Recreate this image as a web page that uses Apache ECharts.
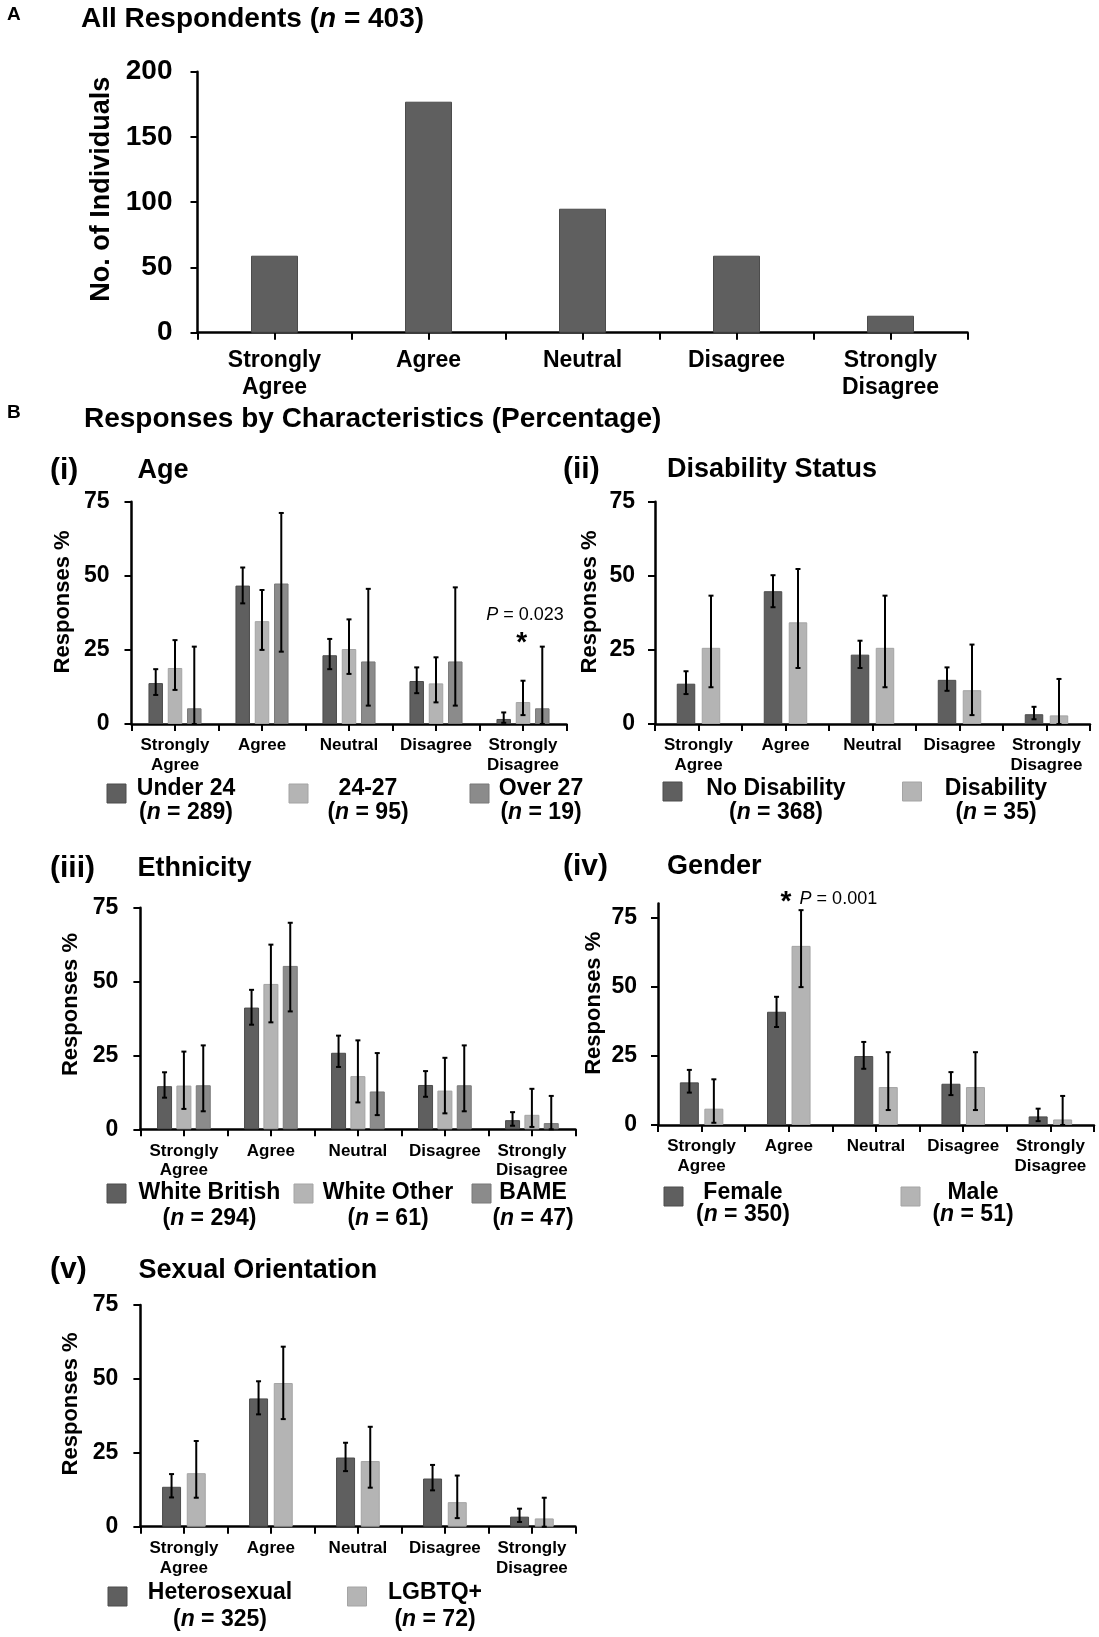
<!DOCTYPE html>
<html><head><meta charset="utf-8">
<script src="https://cdn.jsdelivr.net/npm/echarts@6/dist/echarts.min.js"></script>
<style>html,body{margin:0;padding:0;background:#fff}#c{width:1099px;height:1637px}</style>
</head><body><div id="c"></div>
<script>
// ---------------- DATA ----------------
const categories = ['Strongly\nAgree', 'Agree', 'Neutral', 'Disagree', 'Strongly\nDisagree'];
const yTicksCount = [0, 50, 100, 150, 200];
const yTicksPct = [0, 25, 50, 75];

// A: All respondents (counts)
const allCounts = [59, 177, 95, 59, 13];

// (i) Age
const ageGroups = ['Under 24', '24-27', 'Over 27'];
const ageN = [289, 95, 19];
const ageUnder24 = [13.8, 46.7, 23.2, 14.5, 1.7];
const ageUnder24Lo = [9.8, 40.7, 18.5, 10.4, 0.4];
const ageUnder24Hi = [18.5, 52.8, 28.7, 19.1, 3.9];
const age24to27 = [18.9, 34.7, 25.3, 13.7, 7.4];
const age24to27Lo = [11.5, 25.0, 16.9, 7.3, 3.0];
const age24to27Hi = [28.3, 45.2, 35.3, 22.5, 14.6];
const ageOver27 = [5.3, 47.4, 21.1, 21.1, 5.3];
const ageOver27Lo = [0, 24.4, 6.2, 6.2, 0];
const ageOver27Hi = [26.1, 71.2, 45.6, 46.1, 26.1];

// (ii) Disability
const disabilityGroups = ['No Disability', 'Disability'];
const disabilityN = [368, 35];
const noDisability = [13.6, 44.8, 23.4, 14.9, 3.3];
const noDisabilityLo = [10.1, 39.4, 18.9, 11.2, 1.6];
const noDisabilityHi = [17.8, 50.2, 28.1, 19.1, 5.8];
const disability = [25.7, 34.3, 25.7, 11.4, 2.9];
const disabilityLo = [12.4, 18.9, 12.4, 3.0, 0];
const disabilityHi = [43.3, 52.3, 43.3, 26.8, 15.2];

// (iii) Ethnicity
const ethnicityGroups = ['White British', 'White Other', 'BAME'];
const ethnicityN = [294, 61, 47];
const whiteBritish = [14.6, 41.2, 25.9, 15.0, 3.1];
const whiteBritishLo = [10.7, 35.4, 21.1, 11.0, 1.2];
const whiteBritishHi = [19.3, 47.2, 31.7, 19.7, 5.8];
const whiteOther = [14.8, 49.2, 18.0, 13.1, 4.9];
const whiteOtherLo = [6.9, 36.2, 9.1, 5.4, 0.8];
const whiteOtherHi = [26.3, 62.5, 30.1, 24.2, 13.7];
const bame = [14.9, 55.3, 12.8, 14.9, 2.1];
const bameLo = [6.1, 39.9, 4.8, 6.1, 0];
const bameHi = [28.4, 69.9, 25.8, 28.4, 11.3];

// (iv) Gender
const genderGroups = ['Female', 'Male'];
const genderN = [350, 51];
const female = [15.4, 40.9, 24.9, 14.9, 3.1];
const femaleLo = [11.7, 35.4, 20.3, 10.8, 1.4];
const femaleHi = [19.9, 46.3, 30.0, 19.1, 5.9];
const male = [5.9, 64.7, 13.7, 13.7, 2.0];
const maleLo = [0.8, 49.8, 5.4, 5.4, 0];
const maleHi = [16.5, 77.6, 26.3, 26.3, 10.5];

// (v) Sexual orientation
const orientationGroups = ['Heterosexual', 'LGBTQ+'];
const orientationN = [325, 72];
const heterosexual = [13.5, 43.4, 23.4, 16.3, 3.4];
const heterosexualLo = [9.9, 38.0, 18.8, 12.3, 1.6];
const heterosexualHi = [17.8, 49.2, 28.4, 20.9, 6.1];
const lgbtq = [18.1, 48.6, 22.2, 8.3, 2.8];
const lgbtqLo = [9.8, 36.4, 13.2, 2.9, 0];
const lgbtqHi = [29.0, 60.9, 33.8, 17.3, 9.8];

// ---------------- STYLE ----------------
const FF = "'Liberation Sans', Arial, Helvetica, sans-serif";
const DARK = '#5f5f5f', LIGHT = '#b4b4b4', MID = '#8b8b8b';
const EDGE = {};
EDGE[DARK] = '#4c4c4c'; EDGE[LIGHT] = '#a4a4a4'; EDGE[MID] = '#797979';
const F = (size, weight, style) => `${style || 'normal'} ${weight || 'bold'} ${size}px ${FF}`;

const option = {
  animation: false,
  backgroundColor: '#ffffff',
  grid: [], xAxis: [], yAxis: [], series: [],
  graphic: { elements: [] }
};
const G = option.graphic.elements;

function T(x, y, tokens, align, va) {
  const rich = {};
  let text = '';
  tokens.forEach((t, i) => { rich['t' + i] = { font: t[1], fill: '#000' }; text += '{t' + i + '|' + t[0] + '}'; });
  G.push({ type: 'text', x: x, y: y, silent: true,
    style: { text: text, rich: rich, font: tokens[0][1], fill: '#000', align: align || 'left', verticalAlign: va || 'middle' } });
}

function errRender(k, m, bw, gapFrac) {
  return function (params, api) {
    const i = api.value(0), lo = api.value(1), hi = api.value(2);
    const pH = api.coord([i, hi]), pL = api.coord([i, lo]);
    const off = (k - (m - 1) / 2) * bw * (1 + gapFrac);
    const cx = pH[0] + off;
    const st = { stroke: '#000', lineWidth: 2 };
    return { type: 'group', children: [
      { type: 'line', shape: { x1: cx, y1: pH[1], x2: cx, y2: pL[1] }, style: st },
      { type: 'line', shape: { x1: cx - 2.5, y1: pH[1], x2: cx + 2.5, y2: pH[1] }, style: st },
      { type: 'line', shape: { x1: cx - 2.5, y1: pL[1], x2: cx + 2.5, y2: pL[1] }, style: st }
    ] };
  };
}

function addPanel(p) {
  const gi = option.grid.length;
  option.grid.push({ left: p.left, top: p.top, width: p.width, height: p.height });
  const xi = option.xAxis.length;
  const tickStyle = { color: '#000', width: 2 };
  option.xAxis.push({
    type: 'category', gridIndex: gi, data: categories, position: 'bottom',
    axisLine: { show: true, onZero: false, lineStyle: { color: '#000', width: 2.5 } },
    axisTick: { show: true, interval: 0, alignWithLabel: false, length: 7, lineStyle: tickStyle },
    axisLabel: { interval: 0, color: '#000', fontFamily: FF, fontWeight: 'bold', fontSize: p.xFont, lineHeight: p.xLine, margin: p.xMargin },
    splitLine: { show: false }
  });
  option.xAxis.push({
    type: 'category', gridIndex: gi, data: categories, position: 'bottom',
    axisLine: { show: false, onZero: false },
    axisTick: { show: true, interval: 0, alignWithLabel: true, length: 7, lineStyle: tickStyle },
    axisLabel: { show: false }, splitLine: { show: false }
  });
  const yi = option.yAxis.length;
  option.yAxis.push({
    type: 'value', gridIndex: gi, min: 0, max: p.max, interval: p.interval,
    axisLine: { show: true, lineStyle: { color: '#000', width: 2.5 } },
    axisTick: { show: true, length: 7, lineStyle: tickStyle, customValues: p.ticks },
    axisLabel: { color: '#000', fontFamily: FF, fontWeight: 'bold', fontSize: p.yFont, margin: p.yMargin,
      customValues: p.ticks, formatter: v => (p.ticks.indexOf(v) >= 0 ? String(v) : '') },
    splitLine: { show: false },
    name: p.name, nameLocation: 'middle', nameRotate: 90, nameGap: p.nameGap,
    nameTextStyle: { color: '#000', fontFamily: FF, fontWeight: 'bold', fontSize: p.nameFont, padding: [0, 0, 0, p.nameShift * 2] }
  });
  const m = p.series.length;
  const gapFrac = p.gap || 0;
  p.series.forEach((s, k) => {
    option.series.push({
      type: 'bar', name: s.name, xAxisIndex: xi, yAxisIndex: yi, data: s.data,
      barWidth: p.bw, barGap: Math.round(gapFrac * 100) + '%',
      itemStyle: { color: s.color, borderColor: EDGE[s.color], borderWidth: 1 },
      silent: true, z: 2
    });
    if (s.lo) {
      option.series.push({
        type: 'custom', name: s.name + ' CI', coordinateSystem: 'cartesian2d', xAxisIndex: xi, yAxisIndex: yi,
        data: s.lo.map((l, i) => [i, l, s.hi[i]]), encode: { x: 0, y: [1, 2] },
        renderItem: errRender(k, m, p.bw, gapFrac), silent: true, z: 5
      });
    }
  });
  if (p.legend) {
    p.legend.items.forEach((it, k) => {
      const s = p.series[k];
      G.push({ type: 'rect', silent: true, shape: { x: it.sq, y: p.legend.sqY, width: 19, height: 19 },
        style: { fill: s.color, stroke: EDGE[s.color], lineWidth: 1 } });
      T(it.cx, p.legend.ty, [[s.name, F(23)]], 'center');
      T(it.cx, p.legend.ny, [['(', F(23)], ['n', F(23, 'bold', 'italic')], [' = ' + s.n + ')', F(23)]], 'center');
    });
  }
}

// ---------------- PANELS ----------------
addPanel({ left: 197.5, top: 71.7, width: 770, height: 261, max: 200, interval: 50, ticks: yTicksCount,
  bw: 47, xFont: 23, xLine: 27, xMargin: 14, yFont: 28, yMargin: 25,
  name: 'No. of Individuals', nameFont: 27, nameGap: 76, nameShift: 13,
  series: [{ name: 'All Respondents', data: allCounts, color: DARK }] });

addPanel({ left: 131.5, top: 501.7, width: 435, height: 222.3, max: 75, interval: 25, ticks: yTicksPct,
  bw: 14.5, gap: 0.33, xFont: 17, xLine: 19.5, xMargin: 12, yFont: 23, yMargin: 22,
  name: 'Responses %', nameFont: 22, nameGap: 58, nameShift: 11,
  series: [
    { name: ageGroups[0], n: ageN[0], data: ageUnder24, lo: ageUnder24Lo, hi: ageUnder24Hi, color: DARK },
    { name: ageGroups[1], n: ageN[1], data: age24to27, lo: age24to27Lo, hi: age24to27Hi, color: LIGHT },
    { name: ageGroups[2], n: ageN[2], data: ageOver27, lo: ageOver27Lo, hi: ageOver27Hi, color: MID }],
  legend: { sqY: 784, ty: 789, ny: 813, items: [{ sq: 107, cx: 186 }, { sq: 289, cx: 368 }, { sq: 470, cx: 541 }] } });

addPanel({ left: 655, top: 501.7, width: 435, height: 222.3, max: 75, interval: 25, ticks: yTicksPct,
  bw: 18.5, gap: 0.35, xFont: 17, xLine: 19.5, xMargin: 12, yFont: 23, yMargin: 20,
  name: 'Responses %', nameFont: 22, nameGap: 54, nameShift: 11,
  series: [
    { name: disabilityGroups[0], n: disabilityN[0], data: noDisability, lo: noDisabilityLo, hi: noDisabilityHi, color: DARK },
    { name: disabilityGroups[1], n: disabilityN[1], data: disability, lo: disabilityLo, hi: disabilityHi, color: LIGHT }],
  legend: { sqY: 782, ty: 789, ny: 813, items: [{ sq: 663, cx: 776 }, { sq: 902.5, cx: 996 }] } });

addPanel({ left: 140.4, top: 907.7, width: 435, height: 221.6, max: 75, interval: 25, ticks: yTicksPct,
  bw: 15, gap: 0.29, xFont: 17, xLine: 19.5, xMargin: 12, yFont: 23, yMargin: 22,
  name: 'Responses %', nameFont: 22, nameGap: 58, nameShift: 14,
  series: [
    { name: ethnicityGroups[0], n: ethnicityN[0], data: whiteBritish, lo: whiteBritishLo, hi: whiteBritishHi, color: DARK },
    { name: ethnicityGroups[1], n: ethnicityN[1], data: whiteOther, lo: whiteOtherLo, hi: whiteOtherHi, color: LIGHT },
    { name: ethnicityGroups[2], n: ethnicityN[2], data: bame, lo: bameLo, hi: bameHi, color: MID }],
  legend: { sqY: 1184, ty: 1193, ny: 1219, items: [{ sq: 107, cx: 209.5 }, { sq: 294, cx: 388 }, { sq: 472, cx: 533 }] } });

addPanel({ left: 658, top: 903.5, width: 436, height: 221.5, max: 80, interval: 25, ticks: yTicksPct,
  bw: 19, gap: 0.29, xFont: 17, xLine: 19.5, xMargin: 12, yFont: 23, yMargin: 21,
  name: 'Responses %', nameFont: 22, nameGap: 53, nameShift: 11,
  series: [
    { name: genderGroups[0], n: genderN[0], data: female, lo: femaleLo, hi: femaleHi, color: DARK },
    { name: genderGroups[1], n: genderN[1], data: male, lo: maleLo, hi: maleHi, color: LIGHT }],
  legend: { sqY: 1187, ty: 1193, ny: 1215, items: [{ sq: 664, cx: 743 }, { sq: 901, cx: 973 }] } });

addPanel({ left: 140.4, top: 1305, width: 435, height: 221.7, max: 75, interval: 25, ticks: yTicksPct,
  bw: 19, gap: 0.30, xFont: 17, xLine: 19.5, xMargin: 12, yFont: 23, yMargin: 22,
  name: 'Responses %', nameFont: 22, nameGap: 58, nameShift: 12,
  series: [
    { name: orientationGroups[0], n: orientationN[0], data: heterosexual, lo: heterosexualLo, hi: heterosexualHi, color: DARK },
    { name: orientationGroups[1], n: orientationN[1], data: lgbtq, lo: lgbtqLo, hi: lgbtqHi, color: LIGHT }],
  legend: { sqY: 1587, ty: 1593, ny: 1620, items: [{ sq: 108, cx: 220 }, { sq: 347.5, cx: 435 }] } });

// ---------------- TEXT ----------------
T(7, 15, [['A', F(19)]]);
T(81, 19, [['All Respondents (', F(28)], ['n', F(28, 'bold', 'italic')], [' = 403)', F(28)]]);
T(7, 413, [['B', F(19)]]);
T(84, 419, [['Responses by Characteristics (Percentage)', F(28)]]);
T(50, 471, [['(i)', F(30)]]);   T(137.5, 471, [['Age', F(27)]]);
T(563, 470, [['(ii)', F(30)]]); T(667, 470, [['Disability Status', F(27)]]);
T(50, 869, [['(iii)', F(30)]]); T(137.5, 869, [['Ethnicity', F(27)]]);
T(563, 867, [['(iv)', F(30)]]); T(667, 867, [['Gender', F(27)]]);
T(50, 1270, [['(v)', F(30)]]);  T(138.6, 1271, [['Sexual Orientation', F(27)]]);

// significance annotations
T(525, 615, [['P', F(18, 'normal', 'italic')], [' = 0.023', F(18, 'normal')]], 'center');
T(521.7, 643, [['*', F(28)]], 'center');
T(786, 902, [['*', F(28)]], 'center');
T(799.6, 899.3, [['P', F(18, 'normal', 'italic')], [' = 0.001', F(18, 'normal')]], 'left');

const chart = echarts.init(document.getElementById('c'), null, { renderer: 'canvas' });
chart.setOption(option);
</script>
</body></html>
